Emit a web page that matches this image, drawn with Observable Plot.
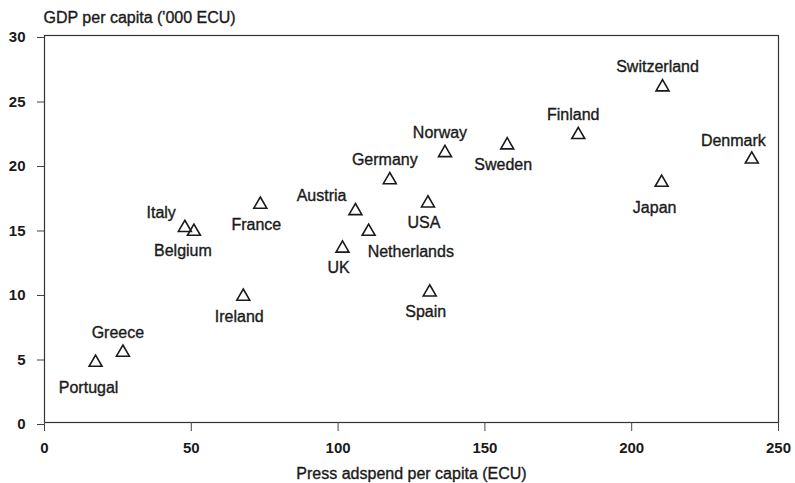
<!DOCTYPE html>
<html>
<head>
<meta charset="utf-8">
<script src="https://cdn.jsdelivr.net/npm/d3@7"></script>
<script src="https://cdn.jsdelivr.net/npm/@observablehq/plot@0.6"></script>
<style>
  html, body { margin: 0; padding: 0; background: #fff; }
</style>
</head>
<body>
<div id="chart"></div>
<script>
const countries = ["Portugal","Greece","Italy","Belgium","France","Ireland","Austria","Germany","UK","Netherlands","USA","Spain","Norway","Sweden","Finland","Switzerland","Japan","Denmark"];
const adspend   = [17.4, 26.7, 47.8, 50.9, 73.5, 67.7, 105.9, 117.6, 101.5, 110.4, 130.6, 131.2, 136.4, 157.6, 181.8, 210.5, 210.2, 240.9];
const gdp       = [4.65, 5.43, 15.1, 14.8, 16.9, 9.77, 16.4, 18.8, 13.5, 14.8, 17.0, 10.1, 20.9, 21.5, 22.3, 26.0, 18.6, 20.4];
const labelPlacement = ["s2","n","nw","sw","s","s","nw","n","s","se","s","s","n","s","n","n","s2","ne"];
const xTicks = [0, 50, 100, 150, 200, 250];
const yTicks = [0, 5, 10, 15, 20, 25, 30];
const yTitle = "GDP per capita ('000 ECU)";
const xTitle = "Press adspend per capita (ECU)";

const data = countries.map((c, i) => ({country: c, x: adspend[i], y: gdp[i], place: labelPlacement[i]}));

const placements = {
  n:  {textAnchor: "middle", dx: -5, dy: -20},
  s:  {textAnchor: "middle", dx: -4, dy: 20},
  s2: {textAnchor: "middle", dx: -7, dy: 25},
  sw: {textAnchor: "middle", dx: -11, dy: 19},
  nw: {textAnchor: "end", dx: -9, dy: -15},
  se: {textAnchor: "start", dx: -1, dy: 20},
  ne: {textAnchor: "end", dx: 14, dy: -18}
};

const ink = "#1a1a1a";
const font = "'Liberation Sans', Arial, Helvetica, sans-serif";
const textStyle = {fill: ink, stroke: ink, strokeWidth: 0.35, fontSize: 16};

const labelMarks = Object.entries(placements).map(([key, p]) =>
  Plot.text(data.filter(d => d.place === key), {
    x: "x", y: "y", text: "country",
    textAnchor: p.textAnchor, dx: p.dx, dy: p.dy,
    ...textStyle
  })
);

const chart = Plot.plot({
  width: 795,
  height: 483,
  marginLeft: 44,
  marginRight: 17,
  marginTop: 35,
  marginBottom: 61,
  x: {domain: [0, 250]},
  y: {domain: [0, 30]},
  style: {fontFamily: font, fontSize: "15px", color: ink, background: "#fff"},
  marks: [
    Plot.frame({stroke: "#333", strokeWidth: 1.2}),
    Plot.axisX({ticks: xTicks, tickSize: 9, tickPadding: 11, label: null, fontSize: 15, stroke: "#444", fontWeight: "bold"}),
    Plot.axisY({ticks: yTicks, tickSize: 7, tickPadding: 12, label: null, fontSize: 15, stroke: "#444", fontWeight: "bold", dy: 2}),
    Plot.dot(data, {x: "x", y: "y", symbol: "triangle", r: 4.8, stroke: ink, strokeWidth: 1.6, fill: "none"}),
    ...labelMarks,
    Plot.text([yTitle], {frameAnchor: "top-left", textAnchor: "start", lineAnchor: "middle", dx: -1, dy: -18, ...textStyle}),
    Plot.text([xTitle], {frameAnchor: "bottom", lineAnchor: "middle", dy: 51, ...textStyle})
  ]
});

document.getElementById("chart").appendChild(chart);
</script>
</body>
</html>
